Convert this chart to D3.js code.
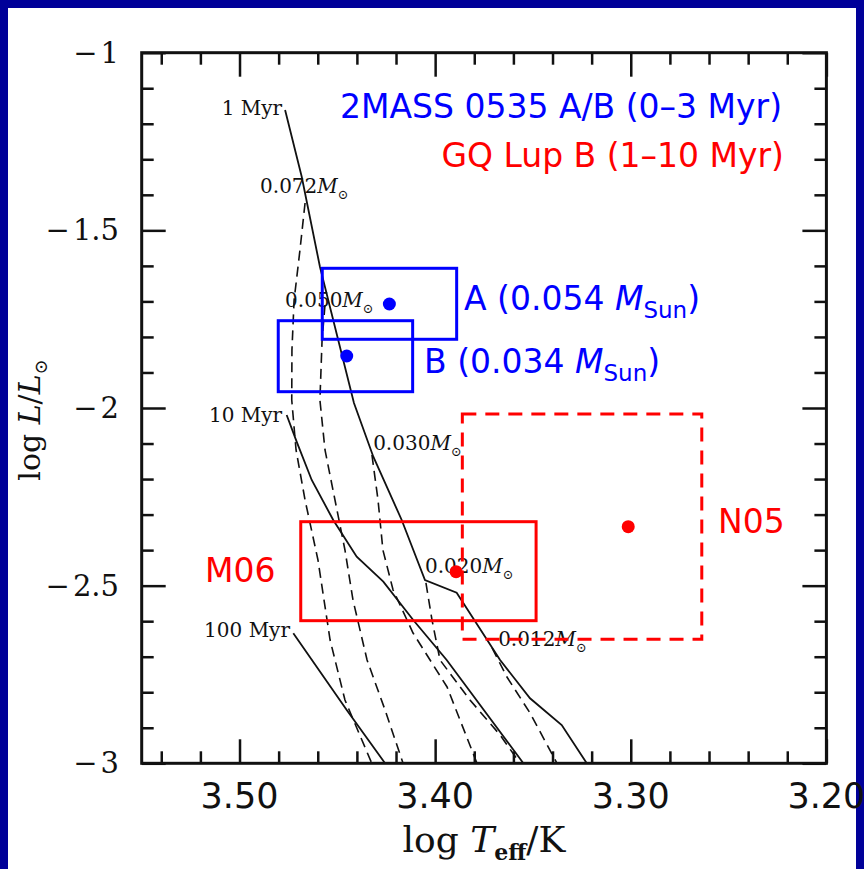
<!DOCTYPE html>
<html><head><meta charset="utf-8">
<script src="https://cdn.jsdelivr.net/npm/d3@7"></script>
<style>body{margin:0;background:#000099;overflow:hidden}</style>
</head><body><svg id="c" width="864" height="869"></svg>
<script>
// ---- data ----
const xMajorTicks = [3.50, 3.40, 3.30, 3.20];
const xMinorTicks = [3.54,3.52,3.48,3.46,3.44,3.42,3.38,3.36,3.34,3.32,3.28,3.26,3.24,3.22];
const yMajorTicks = [-1, -1.5, -2, -2.5, -3];
const yMinorTicks = [-1.1,-1.2,-1.3,-1.4,-1.6,-1.7,-1.8,-1.9,-2.1,-2.2,-2.3,-2.4,-2.6,-2.7,-2.8,-2.9];

// isochrones [logTeff, logL]
const iso1Myr = [[3.4767,-1.1613],[3.4682,-1.349],[3.4589,-1.6023],[3.4415,-1.9859],[3.4316,-2.1371],[3.4171,-2.3152],[3.4052,-2.4841],[3.389,-2.5198],[3.3668,-2.7093],[3.3515,-2.817],[3.3353,-2.8922],[3.3225,-3.0]];
const iso10Myr = [[3.4759,-2.0197],[3.4708,-2.0948],[3.4631,-2.2026],[3.4521,-2.3152],[3.4401,-2.4185],[3.4265,-2.4889],[3.4112,-2.5967],[3.3941,-2.7093],[3.3549,-3.0]];
const iso100Myr = [[3.4725,-2.6341],[3.4452,-2.85],[3.4256,-3.0]];
const isoNames = ["1 Myr","10 Myr","100 Myr"];
const isoLabelPos = [[3.4782,-1.1753],[3.4782,-2.0385],[3.4742,-2.6437]];

// mass tracks
const trk072 = [[3.4665,-1.423],[3.4691,-1.5553],[3.4721,-1.6966],[3.4732,-1.8368],[3.4733,-1.9775],[3.4711,-2.1182],[3.4665,-2.2589],[3.4599,-2.4278],[3.4537,-2.653],[3.4461,-2.8218],[3.4324,-3.0]];
const trk050 = [[3.4563,-1.7101],[3.4578,-1.8086],[3.4589,-1.9775],[3.4563,-2.1182],[3.4512,-2.2589],[3.4461,-2.3996],[3.442,-2.5404],[3.4348,-2.7093],[3.4256,-2.85],[3.4164,-3.0]];
const trk030 = [[3.4323,-2.1323],[3.4292,-2.2589],[3.4267,-2.3996],[3.4215,-2.5122],[3.4113,-2.6333],[3.3939,-2.7852],[3.3786,-3.0]];
const trk020 = [[3.4047,-2.4925],[3.4016,-2.5967],[3.3975,-2.7093],[3.3822,-2.8218],[3.3668,-2.9203],[3.3566,-3.0]];
const trk012 = [[3.3709,-2.6755],[3.3633,-2.7571],[3.3515,-2.8584],[3.3377,-3.0]];
const massNames = ["0.072","0.050","0.030","0.020","0.012"];
const massLabelPos = [[3.4895,-1.3949],[3.4767,-1.7157],[3.4317,-2.1182],[3.4052,-2.4644],[3.3678,-2.6687]];

// objects: [logT, logL], boxes [Tmax, Tmin, Lmax, Lmin]
const objNames = ["A","B","M06","N05"];
const objPoints = [[3.4234,-1.7073],[3.4452,-1.8536],[3.3893,-2.4607],[3.3013,-2.3341]];
const objBoxes = [[3.4577,3.3890,-1.6068,-1.8066],[3.4802,3.4115,-1.7543,-1.9541],[3.4687,3.3484,-2.320,-2.5986],[3.3861,3.2637,-2.0169,-2.651]];
const objColors = ["#0000ff","#0000ff","#ff0000","#ff0000"];
const objDashed = [false,false,false,true];

// ---- drawing ----
const svg = d3.select("#c");
svg.append("rect").attr("x",8).attr("y",8).attr("width",848).attr("height",861).attr("fill","#fff");

const x = d3.scaleLinear().domain([3.55,3.20]).range([141.7,826.4]);
const y = d3.scaleLinear().domain([-1,-3]).range([52.7,763.3]);
const line = d3.line().x(d=>x(d[0])).y(d=>y(d[1]));

const g = svg.append("g");
[trk072,trk050,trk030,trk020,trk012].forEach(t=>{
  g.append("path").attr("d",line(t)).attr("fill","none").attr("stroke","#111").attr("stroke-width",1.6).attr("stroke-dasharray","10,6");
});
[iso1Myr,iso10Myr,iso100Myr].forEach(t=>{
  g.append("path").attr("d",line(t)).attr("fill","none").attr("stroke","#111").attr("stroke-width",1.8);
});
isoNames.forEach((n,i)=>{
  g.append("text").attr("x",x(isoLabelPos[i][0])).attr("y",y(isoLabelPos[i][1])).attr("text-anchor","end")
   .attr("font-family","DejaVu Serif").attr("font-size",20).attr("fill","#111").text(n);
});
massNames.forEach((n,i)=>{
  const t = g.append("text").attr("x",x(massLabelPos[i][0])).attr("y",y(massLabelPos[i][1]))
   .attr("font-family","DejaVu Serif").attr("font-size",20).attr("fill","#111");
  t.append("tspan").text(n);
  t.append("tspan").attr("font-style","italic").text("M");
  t.append("tspan").attr("font-size",13).attr("dy",6).text("⊙");
});

objBoxes.forEach((b,i)=>{
  g.append("rect").attr("x",x(b[0])).attr("y",y(b[2])).attr("width",x(b[1])-x(b[0])).attr("height",y(b[3])-y(b[2]))
   .attr("fill","none").attr("stroke",objColors[i]).attr("stroke-width",3)
   .attr("stroke-dasharray",objDashed[i]?"14,9":null);
});
objPoints.forEach((p,i)=>{
  g.append("circle").attr("cx",x(p[0])).attr("cy",y(p[1])).attr("r",6.5).attr("fill",objColors[i]);
});

const sans = "DejaVu Sans";
function ann(tx,ty,color,parts,anchor){
  const t = svg.append("text").attr("x",tx).attr("y",ty).attr("fill",color).attr("font-family",sans)
    .attr("font-size",33).attr("text-anchor",anchor||"start");
  parts.forEach(p=>{
    const s=t.append("tspan").text(p.t);
    if(p.i) s.attr("font-style","italic");
    if(p.sub) s.attr("font-size",23).attr("dy",8);
    if(p.up) s.attr("dy",-8);
  });
}
ann(340,118,"#0000ff",[{t:"2MASS 0535 A/B (0–3 Myr)"}]);
ann(784,167,"#ff0000",[{t:"GQ Lup B (1–10 Myr)"}],"end");
ann(464,310,"#0000ff",[{t:"A (0.054 "},{t:"M",i:1},{t:"Sun",sub:1},{t:")",up:1}]);
ann(424,373,"#0000ff",[{t:"B (0.034 "},{t:"M",i:1},{t:"Sun",sub:1},{t:")",up:1}]);
ann(205,582,"#ff0000",[{t:"M06"}]);
ann(718,533,"#ff0000",[{t:"N05"}]);

function style(sel){ sel.select(".domain").remove(); sel.selectAll(".tick line").attr("stroke","#111").attr("stroke-width",2.5); sel.selectAll("text").remove(); }
svg.append("g").attr("transform",`translate(0,${y(-3)})`).call(d3.axisBottom(x).tickValues(xMinorTicks).tickSize(-12)).call(style);
svg.append("g").attr("transform",`translate(0,${y(-3)})`).call(d3.axisBottom(x).tickValues(xMajorTicks).tickSize(-24)).call(style);
svg.append("g").attr("transform",`translate(0,${y(-1)})`).call(d3.axisTop(x).tickValues(xMinorTicks).tickSize(-12)).call(style);
svg.append("g").attr("transform",`translate(0,${y(-1)})`).call(d3.axisTop(x).tickValues(xMajorTicks).tickSize(-24)).call(style);
svg.append("g").attr("transform",`translate(${x(3.55)},0)`).call(d3.axisLeft(y).tickValues(yMinorTicks).tickSize(-12)).call(style);
svg.append("g").attr("transform",`translate(${x(3.55)},0)`).call(d3.axisLeft(y).tickValues(yMajorTicks).tickSize(-24)).call(style);
svg.append("g").attr("transform",`translate(${x(3.20)},0)`).call(d3.axisRight(y).tickValues(yMinorTicks).tickSize(-12)).call(style);
svg.append("g").attr("transform",`translate(${x(3.20)},0)`).call(d3.axisRight(y).tickValues(yMajorTicks).tickSize(-24)).call(style);
svg.append("rect").attr("x",x(3.55)).attr("y",y(-1)).attr("width",x(3.20)-x(3.55)).attr("height",y(-3)-y(-1))
  .attr("fill","none").attr("stroke","#111").attr("stroke-width",3);

xMajorTicks.forEach(v=>{
  svg.append("text").attr("x",x(v)).attr("y",808).attr("text-anchor","middle").attr("font-family","DejaVu Sans")
    .attr("font-size",35).attr("fill","#111").text(v.toFixed(2));
});
yMajorTicks.forEach(v=>{
  const t = svg.append("text").attr("x",119).attr("y",y(v)+10).attr("text-anchor","end").attr("font-family","DejaVu Serif")
    .attr("font-size",29).attr("fill","#111");
  t.append("tspan").text("−");
  t.append("tspan").attr("dx",3).text(String(Math.abs(v)));
});
const xt = svg.append("text").attr("x",484).attr("y",852).attr("text-anchor","middle").attr("font-family","DejaVu Serif").attr("font-size",36).attr("fill","#111");
xt.append("tspan").text("log ");
xt.append("tspan").attr("font-style","italic").text("T");
xt.append("tspan").attr("font-size",22).attr("font-weight","bold").attr("dy",8).text("eff");
xt.append("tspan").attr("dy",-8).text("/K");
const yt = svg.append("text").attr("transform","translate(40,420) rotate(-90)").attr("text-anchor","middle").attr("font-family","DejaVu Serif").attr("font-size",30).attr("fill","#111");
yt.append("tspan").text("log ");
yt.append("tspan").attr("font-style","italic").text("L");
yt.append("tspan").text("/");
yt.append("tspan").attr("font-style","italic").text("L");
yt.append("tspan").attr("font-size",18).attr("dy",7).text("⊙");
</script></body></html>
